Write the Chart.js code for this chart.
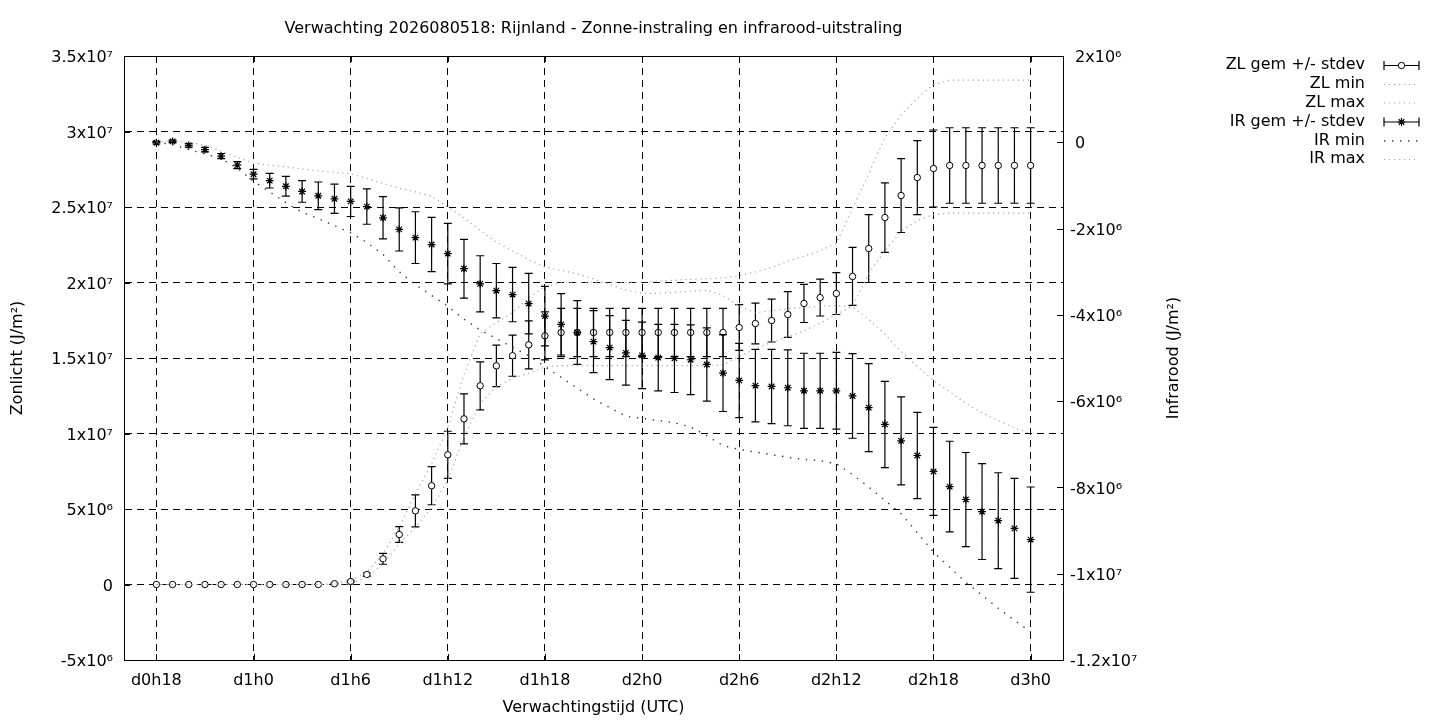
<!DOCTYPE html>
<html>
<head>
<meta charset="utf-8">
<script src="https://cdn.jsdelivr.net/npm/chart.js@4.4.1/dist/chart.umd.min.js"></script>
<style>
html,body{margin:0;padding:0;background:#fff;}
#wrap{width:1440px;height:720px;position:relative;}
</style>
</head>
<body>
<div id="wrap"><canvas id="c"></canvas></div>
<script>
// ---- data (values in units of 10^6 J/m2) ----
const hours = [18,19,20,21,22,23,24,25,26,27,28,29,30,31,32,33,34,35,36,37,38,39,40,41,42,43,44,45,46,47,48,49,50,51,52,53,54,55,56,57,58,59,60,61,62,63,64,65,66,67,68,69,70,71,72];

const zlMean = [0,0,0,0,0,0,0,0,0,0,0,0.05,0.2,0.66,1.7,3.31,4.88,6.54,8.59,10.97,13.16,14.48,15.15,15.87,16.47,16.69,16.69,16.69,16.69,16.69,16.69,16.69,16.69,16.69,16.69,16.69,17.02,17.28,17.48,17.88,18.61,19.0,19.27,20.4,22.25,24.3,25.76,26.95,27.55,27.75,27.75,27.75,27.75,27.75,27.75];
const zlStdev = [0,0,0,0,0,0,0,0,0,0,0,0.02,0.05,0.1,0.36,0.52,1.06,1.26,1.56,1.66,1.59,1.37,1.36,1.59,1.59,1.6,1.6,1.6,1.6,1.6,1.6,1.6,1.6,1.6,1.6,1.6,1.52,1.35,1.42,1.52,1.26,1.22,1.39,1.92,2.25,2.3,2.45,2.45,2.55,2.5,2.5,2.5,2.5,2.5,2.5];
const zlMin = [0,0,0,0,0,0,0,0,0,0,0,0,0.04,0.5,1.37,2.7,3.8,5.1,6.9,9.75,12.0,13.1,13.65,14.0,14.4,14.5,14.5,14.5,14.5,14.5,14.5,14.5,14.5,14.5,14.5,14.55,15.1,15.6,16.05,16.4,16.8,17.3,17.9,18.4,20.6,22.1,23.4,24.1,24.5,24.6,24.6,24.6,24.6,24.6,24.6];
const zlMax = [0,0,0,0,0,0,0,0,0,0,0,0.05,0.26,0.81,2.03,3.8,6.0,8.0,10.4,13.9,16.6,17.35,18.0,19.0,19.7,20.0,20.0,20.0,20.0,20.0,20.0,20.1,20.15,20.2,20.25,20.3,20.45,20.7,21.0,21.4,21.75,22.1,22.6,24.9,27.2,29.6,31.1,32.2,33.1,33.4,33.4,33.4,33.4,33.4,33.4];

const irMean = [-0.01,0.02,-0.07,-0.17,-0.32,-0.53,-0.74,-0.89,-1.02,-1.14,-1.24,-1.31,-1.37,-1.49,-1.75,-2.02,-2.21,-2.37,-2.58,-2.93,-3.28,-3.44,-3.53,-3.74,-4.03,-4.22,-4.41,-4.62,-4.76,-4.88,-4.94,-4.99,-5.01,-5.04,-5.15,-5.35,-5.52,-5.64,-5.66,-5.69,-5.76,-5.76,-5.76,-5.88,-6.15,-6.54,-6.92,-7.26,-7.63,-7.98,-8.28,-8.56,-8.77,-8.95,-9.21];
const irStdev = [0.03,0.03,0.04,0.05,0.06,0.08,0.11,0.17,0.23,0.25,0.32,0.34,0.35,0.41,0.49,0.5,0.6,0.63,0.7,0.68,0.65,0.63,0.63,0.7,0.69,0.71,0.74,0.72,0.74,0.75,0.77,0.77,0.79,0.81,0.85,0.89,0.86,0.84,0.86,0.88,0.87,0.87,0.89,0.98,1.02,1.0,1.02,1.0,1.02,1.05,1.09,1.11,1.11,1.16,1.22];
const irMin = [0.0,-0.05,-0.17,-0.27,-0.38,-0.6,-0.9,-1.15,-1.4,-1.62,-1.77,-1.93,-2.1,-2.32,-2.6,-3.0,-3.3,-3.55,-3.8,-4.1,-4.35,-4.55,-4.75,-4.95,-5.2,-5.45,-5.7,-5.95,-6.15,-6.35,-6.4,-6.45,-6.5,-6.6,-6.8,-7.03,-7.12,-7.18,-7.24,-7.3,-7.35,-7.38,-7.45,-7.7,-7.99,-8.3,-8.61,-9.05,-9.5,-9.85,-10.2,-10.5,-10.8,-11.08,-11.35];
const irMax = [0.0,0.03,0.0,-0.07,-0.2,-0.35,-0.48,-0.53,-0.57,-0.62,-0.66,-0.7,-0.73,-0.84,-0.95,-1.07,-1.15,-1.25,-1.5,-1.75,-2.05,-2.31,-2.52,-2.72,-2.89,-2.97,-3.05,-3.17,-3.3,-3.42,-3.5,-3.5,-3.48,-3.45,-3.43,-3.55,-3.8,-3.95,-3.9,-3.86,-3.83,-3.8,-3.78,-3.82,-4.1,-4.45,-4.85,-5.2,-5.52,-5.78,-6.05,-6.27,-6.45,-6.62,-6.75];

// ---- ticks ----
const xTickHours = [18,24,30,36,42,48,54,60,66,72];
const xTickLabels = ['d0h18','d1h0','d1h6','d1h12','d1h18','d2h0','d2h6','d2h12','d2h18','d3h0'];
const leftTicks = [-5,0,5,10,15,20,25,30,35];
const leftTickLabels = ['-5x10\u2076','0','5x10\u2076','1x10\u2077','1.5x10\u2077','2x10\u2077','2.5x10\u2077','3x10\u2077','3.5x10\u2077'];
const rightTicks = [-12,-10,-8,-6,-4,-2,0,2];
const rightTickLabels = ['-1.2x10\u2077','-1x10\u2077','-8x10\u2076','-6x10\u2076','-4x10\u2076','-2x10\u2076',' 0',' 2x10\u2076'];

const titleText = 'Verwachting 2026080518: Rijnland - Zonne-instraling en infrarood-uitstraling';
const FONT = 'DejaVu Sans';
const FS = 16;

const pts = arr => hours.map((h, i) => ({x: h, y: arr[i]}));
const LIGHT = '#a6a6a6';
const DARK = '#3c3c3c';

const errorSets = {
  0: {mean: zlMean, sd: zlStdev, axis: 'y'},
  3: {mean: irMean, sd: irStdev, axis: 'y2'}
};

function drawStar(ctx, x, y, r) {
  ctx.beginPath();
  ctx.moveTo(x - r, y); ctx.lineTo(x + r, y);
  ctx.moveTo(x, y - r); ctx.lineTo(x, y + r);
  const d = r * Math.SQRT1_2;
  ctx.moveTo(x - d, y - d); ctx.lineTo(x + d, y + d);
  ctx.moveTo(x - d, y + d); ctx.lineTo(x + d, y - d);
  ctx.stroke();
}

const gnuplotLook = {
  id: 'gnuplotLook',
  beforeDatasetDraw(chart, args) {
    const es = errorSets[args.index];
    if (!es) return;
    const ctx = chart.ctx, xs = chart.scales.x, ys = chart.scales[es.axis];
    const a = chart.chartArea;
    ctx.save();
    ctx.beginPath();
    ctx.rect(a.left, a.top, a.right - a.left, a.bottom - a.top);
    ctx.clip();
    ctx.strokeStyle = '#000';
    ctx.lineWidth = 1.2;
    ctx.beginPath();
    for (let i = 0; i < hours.length; i++) {
      const px = xs.getPixelForValue(hours[i]);
      const t = ys.getPixelForValue(es.mean[i] + es.sd[i]);
      const b = ys.getPixelForValue(es.mean[i] - es.sd[i]);
      ctx.moveTo(px, t); ctx.lineTo(px, b);
      ctx.moveTo(px - 4, t); ctx.lineTo(px + 4, t);
      ctx.moveTo(px - 4, b); ctx.lineTo(px + 4, b);
    }
    ctx.stroke();
    ctx.restore();
  },
  afterDraw(chart) {
    const ctx = chart.ctx, a = chart.chartArea;
    const xs = chart.scales.x, y = chart.scales.y, y2 = chart.scales.y2;
    ctx.save();
    // inward tick marks
    ctx.strokeStyle = '#000';
    ctx.lineWidth = 1;
    ctx.beginPath();
    xTickHours.forEach(v => {
      const px = Math.round(xs.getPixelForValue(v)) + 0.5;
      ctx.moveTo(px, a.bottom); ctx.lineTo(px, a.bottom - 6);
      ctx.moveTo(px, a.top); ctx.lineTo(px, a.top + 6);
    });
    leftTicks.forEach(v => {
      const py = Math.round(y.getPixelForValue(v)) + 0.5;
      ctx.moveTo(a.left, py); ctx.lineTo(a.left + 6, py);
    });
    rightTicks.forEach(v => {
      const py = Math.round(y2.getPixelForValue(v)) + 0.5;
      ctx.moveTo(a.right, py); ctx.lineTo(a.right - 6, py);
    });
    ctx.stroke();
    // border
    ctx.strokeRect(Math.round(a.left) + 0.5, Math.round(a.top) + 0.5,
                   Math.round(a.right - a.left), Math.round(a.bottom - a.top));
    // title
    ctx.fillStyle = '#000';
    ctx.font = FS + 'px "' + FONT + '"';
    ctx.textAlign = 'center';
    ctx.textBaseline = 'middle';
    ctx.fillText(titleText, (a.left + a.right) / 2, 29);
    // right axis title (reads bottom to top)
    ctx.save();
    ctx.translate(1174, (a.top + a.bottom) / 2);
    ctx.rotate(-Math.PI / 2);
    ctx.fillText('Infrarood (J/m\u00b2)', 0, 0);
    ctx.restore();
    // legend
    const rowsY = [65, 84, 102.5, 121.5, 140.5, 159];
    const textRight = 1365, s0 = 1384, s1 = 1419;
    ctx.textAlign = 'right';
    chart.data.datasets.forEach((ds, i) => {
      const ry = rowsY[i];
      ctx.fillStyle = '#000';
      ctx.fillText(ds.label, textRight, ry);
      ctx.save();
      if (errorSets[i]) {
        ctx.strokeStyle = '#000';
        ctx.lineWidth = 1.2;
        ctx.beginPath();
        ctx.moveTo(s0, ry + 0.5); ctx.lineTo(s1, ry + 0.5);
        ctx.moveTo(s0, ry - 4); ctx.lineTo(s0, ry + 5);
        ctx.moveTo(s1, ry - 4); ctx.lineTo(s1, ry + 5);
        ctx.stroke();
        const mx = (s0 + s1) / 2;
        if (ds.pointStyle === 'circle') {
          ctx.beginPath();
          ctx.arc(mx, ry + 0.5, ds.pointRadius, 0, Math.PI * 2);
          ctx.fillStyle = '#fff'; ctx.fill();
          ctx.lineWidth = 1; ctx.stroke();
        } else {
          ctx.lineWidth = 1.2;
          drawStar(ctx, mx, ry + 0.5, ds.pointRadius);
        }
      } else {
        ctx.strokeStyle = ds.borderColor;
        ctx.lineWidth = ds.borderWidth;
        ctx.setLineDash(ds.borderDash);
        ctx.beginPath();
        ctx.moveTo(s0, ry + 0.5); ctx.lineTo(s1, ry + 0.5);
        ctx.stroke();
      }
      ctx.restore();
    });
    ctx.restore();
  }
};

Chart.defaults.font.family = FONT;
Chart.defaults.font.size = FS;
Chart.defaults.color = '#000';

const gridDash = [7, 5];

new Chart(document.getElementById('c'), {
  type: 'line',
  data: {
    datasets: [
      {label: 'ZL gem +/- stdev', data: pts(zlMean), yAxisID: 'y', showLine: false,
       pointStyle: 'circle', pointRadius: 3.2, pointBackgroundColor: '#fff',
       pointBorderColor: '#000', pointBorderWidth: 1, order: 6},
      {label: 'ZL min', data: pts(zlMin), yAxisID: 'y', borderColor: LIGHT, borderWidth: 1.2,
       borderDash: [1.2, 3.8], pointRadius: 0, tension: 0, fill: false, order: 5},
      {label: 'ZL max', data: pts(zlMax), yAxisID: 'y', borderColor: LIGHT, borderWidth: 1.2,
       borderDash: [1.2, 3.8], pointRadius: 0, tension: 0, fill: false, order: 4},
      {label: 'IR gem +/- stdev', data: pts(irMean), yAxisID: 'y2', showLine: false,
       pointStyle: 'star', pointRadius: 3.9, pointBackgroundColor: '#000',
       pointBorderColor: '#000', pointBorderWidth: 1.2, order: 3},
      {label: 'IR min', data: pts(irMin), yAxisID: 'y2', borderColor: DARK, borderWidth: 1.4,
       borderDash: [1.4, 6.6], pointRadius: 0, tension: 0, fill: false, order: 2},
      {label: 'IR max', data: pts(irMax), yAxisID: 'y2', borderColor: LIGHT, borderWidth: 1.2,
       borderDash: [1.2, 3.8], pointRadius: 0, tension: 0, fill: false, order: 1}
    ]
  },
  options: {
    responsive: true,
    maintainAspectRatio: false,
    animation: false,
    events: [],
    layout: {padding: {top: 56, right: 257, bottom: 0, left: 0}},
    plugins: {legend: {display: false}, tooltip: {enabled: false}, title: {display: false}},
    scales: {
      x: {
        type: 'linear', min: 16, max: 74,
        afterBuildTicks: s => { s.ticks = xTickHours.map(v => ({value: v})); },
        afterFit: s => { s.height = 60; },
        ticks: {
          autoSkip: false, maxRotation: 0, padding: 11,
          callback: v => xTickLabels[xTickHours.indexOf(v)]
        },
        grid: {color: '#000', lineWidth: 1, drawTicks: false},
        border: {display: true, color: '#000', width: 1, dash: gridDash},
        title: {display: true, text: 'Verwachtingstijd (UTC)', padding: {top: 0, bottom: 2.6}}
      },
      y: {
        type: 'linear', position: 'left', min: -5, max: 35,
        afterBuildTicks: s => { s.ticks = leftTicks.map(v => ({value: v})); },
        afterFit: s => { s.width = 124; },
        ticks: {padding: 11, labelOffset: 2, callback: v => leftTickLabels[leftTicks.indexOf(v)]},
        grid: {color: '#000', lineWidth: 1, drawTicks: false},
        border: {display: true, color: '#000', width: 1, dash: gridDash},
        title: {display: true, text: 'Zonlicht (J/m\u00b2)', padding: {top: 8.6, bottom: 0}}
      },
      y2: {
        type: 'linear', position: 'right', min: -12, max: 2,
        afterBuildTicks: s => { s.ticks = rightTicks.map(v => ({value: v})); },
        afterFit: s => { s.width = 120; },
        ticks: {padding: 7, labelOffset: 2, callback: v => rightTickLabels[rightTicks.indexOf(v)]},
        grid: {display: false, drawTicks: false},
        border: {display: true, color: '#000', width: 1}
      }
    }
  },
  plugins: [gnuplotLook]
});
</script>
</body>
</html>
